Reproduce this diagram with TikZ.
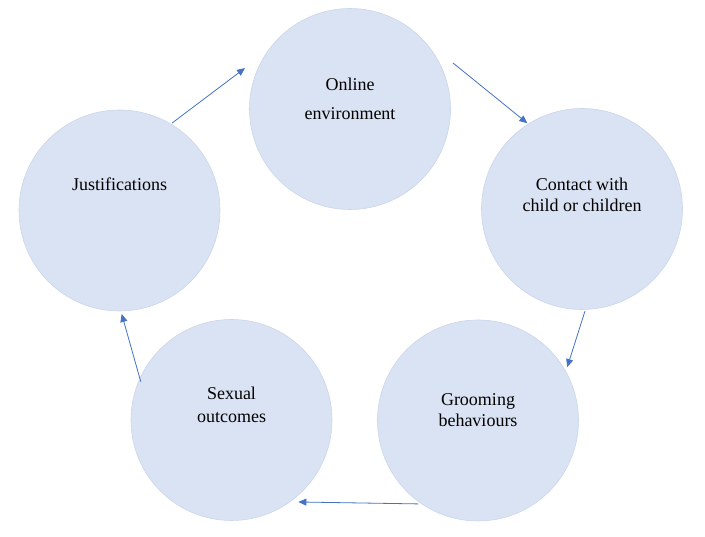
\documentclass[tikz,border=0pt]{standalone}
\usepackage{fontspec}
\setmainfont{Liberation Serif}
\usepackage{xcolor}
\usetikzlibrary{calc, arrows.meta}

\definecolor{stagefill}{HTML}{DAE3F3}
\definecolor{stageline}{HTML}{CBD6EA}
\definecolor{arrowblue}{HTML}{4472C4}

\tikzset{
	stage/.style = {circle, fill = stagefill, draw = stageline, line width = 0.6pt, minimum size = 201pt, inner sep = 0pt},
	lbl/.style = {align = center, anchor = base, inner sep = 0pt},
	link/.style = {arrowblue, line width = 0.8pt, -{Triangle[length = 8pt, width = 7pt]}}
}

\begin{document}
\begin{tikzpicture}[x = 1pt, y = 1pt]
		\useasboundingbox (0,0) rectangle (705,537);
		
		\begin{scope}
			\node [stage] (onl) at (350,428) {};
			\node [stage] (con) at (582,328) {};
			\node [stage] (gro) at (478,116.5) {};
			\node [stage] (sex) at (231.5,117) {};
			\node [stage] (jus) at (119.5,326.5) {};
		\end{scope}
		
		\begin{scope}[lbl]
			\node [font = \fontsize{18}{29.3}\selectfont] (onltxt) at (350,417) {Online\\environment};
			\node [font = \fontsize{18}{21}\selectfont] (contxt) at (582,325.3) {Contact with\\child or children};
			\node [font = \fontsize{18}{20.7}\selectfont] (grotxt) at (478,110.3) {Grooming\\behaviours};
			\node [font = \fontsize{18}{22.7}\selectfont] (sextxt) at (231.5,114.3) {Sexual\\outcomes};
			\node [font = \fontsize{18}{22}\selectfont] (justxt) at (119.5,346) {Justifications};
		\end{scope}
		
		% ends of the arrows, a little off the circles
		\coordinate (onlout) at ($ (onl.center) + (24.1:112.8) $);
		\coordinate (conin) at ($ (con.center) + (122.5:101.7) $);
		\coordinate (conout) at ($ (con.center) + (-88.3:102) $);
		\coordinate (groin) at ($ (gro.center) + (30.9:104) $);
		\coordinate (groout) at ($ (gro.center) + (234.4:102.6) $);
		\coordinate (sexin) at ($ (sex.center) + (-50.8:105.8) $);
		\coordinate (sexout) at ($ (sex.center) + (157.1:98.5) $);
		\coordinate (jusin) at ($ (jus.center) + (-88.8:103.5) $);
		\coordinate (jusout) at ($ (jus.center) + (59:102) $);
		\coordinate (onlin) at ($ (onl.center) + (158.7:112.7) $);
		
		\begin{scope}[link]
			\draw (onlout) -- (conin);
			\draw (conout) -- (groin);
			\draw (groout) -- (sexin);
			\draw (sexout) -- (jusin);
			\draw (jusout) -- (onlin);
		\end{scope}
	\end{tikzpicture}
\end{document}
